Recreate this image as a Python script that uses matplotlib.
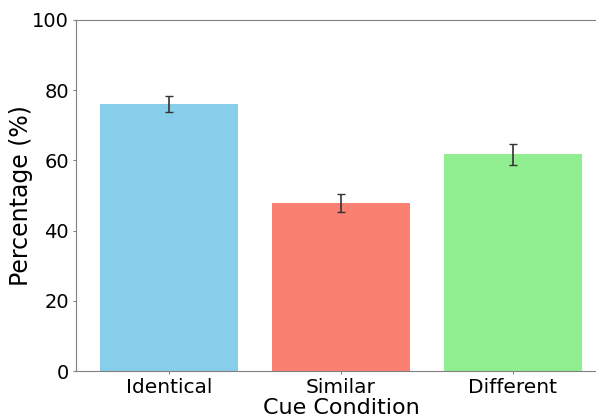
import matplotlib
matplotlib.use("Agg")
import matplotlib.pyplot as plt

conditions = ["Identical", "Similar", "Different"]
percent = [76.1, 47.9, 61.7]
sem = [2.3, 2.6, 2.9]
bar_colors = ["skyblue", "salmon", "lightgreen"]

fig = plt.figure(figsize=(5.96, 4.16), dpi=100)
ax = fig.add_axes([0.1275, 0.108, 0.889, 0.844])

ax.bar(conditions, percent, yerr=sem, color=bar_colors, capsize=3,
       error_kw={'ecolor': '#333333', 'elinewidth': 1.2, 'capthick': 1.0})

ax.set_ylim(0, 100)
ax.set_xlim(-0.54, 2.54)
ax.set_ylabel("Percentage (%)", fontsize=17)
ax.yaxis.set_label_coords(-0.082, 0.5)
ax.set_xlabel("Cue Condition", fontsize=16, labelpad=1)
ax.tick_params(axis='x', labelsize=14.5, color='gray', length=2.5, pad=2.5)
ax.tick_params(axis='y', labelsize=14, color='gray', length=2.5, pad=2.5)

for side in ['left', 'bottom', 'top', 'right']:
    ax.spines[side].set_color('gray')

plt.savefig("out.png", dpi=100)
